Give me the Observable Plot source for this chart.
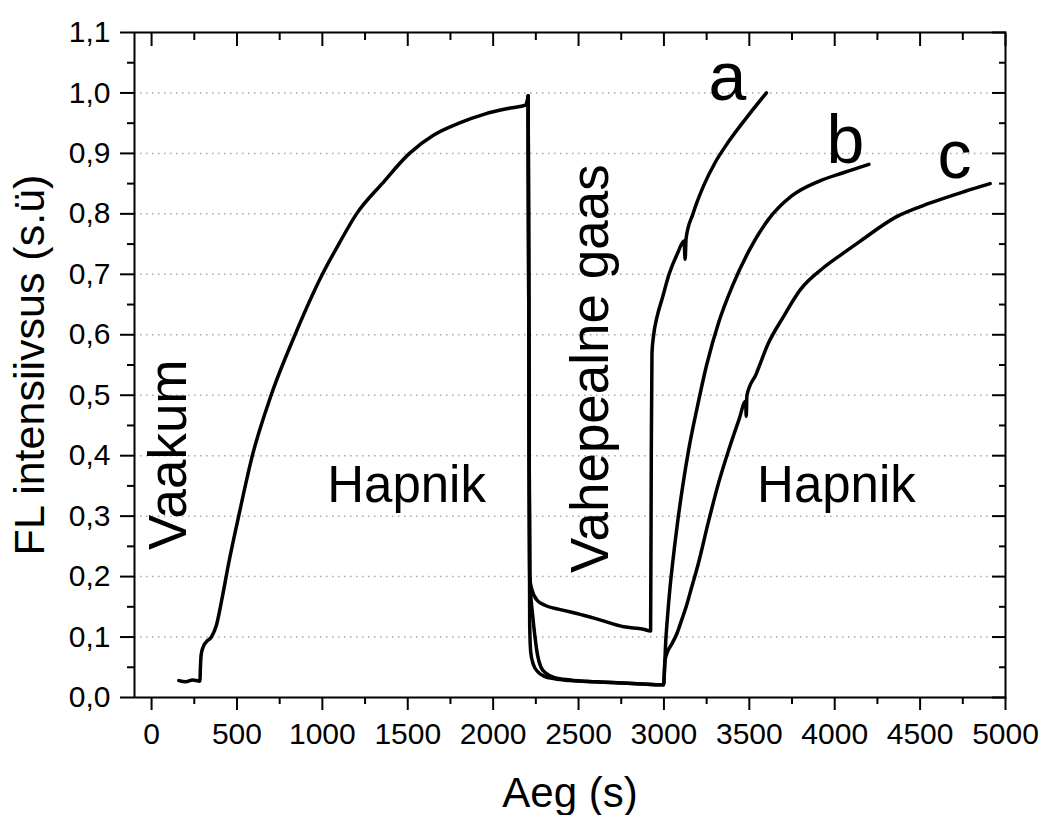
<!DOCTYPE html>
<html>
<head>
<meta charset="utf-8">
<script src="https://cdn.jsdelivr.net/npm/d3@7"></script>
<script src="https://cdn.jsdelivr.net/npm/@observablehq/plot@0.6"></script>
<style>
  html, body { margin: 0; padding: 0; background: #fff; }
</style>
</head>
<body>
<div id="chart"></div>
<script>
// Shared segment: vacuum, then oxygen admitted (time in s, FL intensity in a.u.)
const tRise = [160, 200, 240, 283, 286, 290, 300, 320, 350, 380, 410, 450, 510, 590, 700, 840, 1000, 1100, 1200, 1350, 1510, 1650, 1800, 1950, 2100, 2190, 2205];
const vRise = [0.028, 0.026, 0.029, 0.027, 0.05, 0.07, 0.082, 0.092, 0.10, 0.12, 0.16, 0.22, 0.30, 0.40, 0.50, 0.60, 0.70, 0.752, 0.80, 0.85, 0.90, 0.93, 0.95, 0.965, 0.975, 0.98, 0.995];

// Branch a: intermediate gas, oxygen back at ~2920 s
const tA = [2205, 2210, 2214, 2225, 2260, 2300, 2400, 2490, 2630, 2765, 2880, 2922, 2926, 2930, 2940, 2960, 2990, 3030, 3080, 3118, 3124, 3130, 3170, 3230, 3300, 3380, 3500, 3600];
const vA = [0.995, 0.5, 0.20, 0.18, 0.16, 0.153, 0.145, 0.139, 0.128, 0.117, 0.113, 0.11, 0.40, 0.57, 0.60, 0.63, 0.66, 0.70, 0.735, 0.755, 0.725, 0.76, 0.80, 0.845, 0.885, 0.92, 0.965, 1.0];

// Branch b: oxygen back at ~3000 s
const tB = [2205, 2210, 2214, 2220, 2235, 2260, 2300, 2360, 2450, 2600, 2750, 2900, 2998, 3004, 3010, 3020, 3035, 3050, 3080, 3110, 3145, 3195, 3250, 3320, 3400, 3500, 3610, 3750, 3900, 4050, 4200];
const vB = [0.995, 0.5, 0.12, 0.075, 0.055, 0.043, 0.035, 0.031, 0.028, 0.026, 0.024, 0.022, 0.021, 0.05, 0.09, 0.13, 0.18, 0.22, 0.29, 0.35, 0.41, 0.48, 0.55, 0.62, 0.68, 0.74, 0.79, 0.83, 0.853, 0.868, 0.882];

// Branch c: oxygen back at ~3000 s, slower recovery
const tC = [2205, 2210, 2214, 2218, 2230, 2245, 2260, 2280, 2310, 2360, 2450, 2600, 2750, 2900, 2998, 3006, 3020, 3045, 3075, 3100, 3130, 3160, 3200, 3260, 3320, 3380, 3440, 3478, 3482, 3486, 3540, 3610, 3700, 3800, 3930, 4050, 4150, 4360, 4560, 4760, 4910];
const vC = [0.995, 0.5, 0.21, 0.18, 0.14, 0.10, 0.07, 0.05, 0.04, 0.033, 0.029, 0.026, 0.024, 0.022, 0.021, 0.06, 0.075, 0.088, 0.105, 0.125, 0.15, 0.18, 0.22, 0.29, 0.355, 0.41, 0.46, 0.49, 0.465, 0.50, 0.535, 0.585, 0.63, 0.675, 0.71, 0.735, 0.755, 0.795, 0.818, 0.837, 0.85];

// Axis ticks
const xMajor = [0, 500, 1000, 1500, 2000, 2500, 3000, 3500, 4000, 4500, 5000];
const xMinor = [250, 750, 1250, 1750, 2250, 2750, 3250, 3750, 4250, 4750];
const yMajor = [0, 0.1, 0.2, 0.3, 0.4, 0.5, 0.6, 0.7, 0.8, 0.9, 1.0, 1.1];
const yMinor = [0.05, 0.15, 0.25, 0.35, 0.45, 0.55, 0.65, 0.75, 0.85, 0.95, 1.05];
const yGrid = [0.1, 0.2, 0.3, 0.4, 0.5, 0.6, 0.7, 0.8, 0.9, 1.0];

// Region labels and curve letters
const regionLabels = [
  {text: "Hapnik", t: 1493, v: 0.3227},
  {text: "Hapnik", t: 4010, v: 0.3227}
];
const verticalLabels = [
  {text: "Vaakum", t: 200, v: 0.244},
  {text: "Vahepealne gaas", t: 2675, v: 0.206}
];
const curveLetters = [
  {text: "a", t: 3372, v: 0.989},
  {text: "b", t: 4063, v: 0.8835},
  {text: "c", t: 4701, v: 0.8587}
];

const rows = [];
function addSeries(name, ts, vs) {
  ts.forEach((t, i) => rows.push({series: name, t, v: vs[i]}));
}
addSeries("rise", tRise, vRise);
addSeries("a", tA, vA);
addSeries("b", tB, vB);
addSeries("c", tC, vC);

const font = "'Liberation Sans', Arial, Helvetica, sans-serif";
const fmtY = d => d.toFixed(1).replace(".", ",");
const blank = () => "";

const chart = Plot.plot({
  width: 1041,
  height: 815,
  marginLeft: 134,
  marginRight: 36,
  marginTop: 32,
  marginBottom: 118,
  x: {domain: [-100, 5000]},
  y: {domain: [0, 1.1]},
  style: {fontFamily: font, background: "white", color: "black"},
  marks: [
    Plot.ruleY(yGrid, {stroke: "#a8a8a8", strokeWidth: 1.5, strokeDasharray: "1.5,4.5"}),
    Plot.line(rows, {x: "t", y: "v", z: "series", curve: "monotone-x", stroke: "black", strokeWidth: 3.5, strokeLinejoin: "round", strokeLinecap: "round"}),
    Plot.frame({stroke: "black", strokeWidth: 2}),
    // bottom / left: outward ticks with labels
    Plot.axisX({ticks: xMajor, tickSize: 13, tickPadding: 12, strokeWidth: 2, fontSize: 30, tickFormat: d => String(d), label: null}),
    Plot.axisX({ticks: xMinor, tickSize: 7, strokeWidth: 2, tickFormat: blank, label: null}),
    Plot.axisY({ticks: yMajor, tickSize: 14, tickPadding: 10, strokeWidth: 2, fontSize: 30, tickFormat: fmtY, label: null}),
    Plot.axisY({ticks: yMinor, tickSize: 7, strokeWidth: 2, tickFormat: blank, label: null}),
    // top / right: inward ticks
    Plot.axisX({anchor: "top", ticks: xMajor, tickSize: -13, strokeWidth: 2, tickFormat: blank, label: null}),
    Plot.axisX({anchor: "top", ticks: xMinor, tickSize: -7, strokeWidth: 2, tickFormat: blank, label: null}),
    Plot.axisY({anchor: "right", ticks: yMajor, tickSize: -14, strokeWidth: 2, tickFormat: blank, label: null}),
    Plot.axisY({anchor: "right", ticks: yMinor, tickSize: -7, strokeWidth: 2, tickFormat: blank, label: null}),
    // axis titles
    Plot.text(["Aeg (s)"], {frameAnchor: "bottom", dy: 109, text: d => d, fontSize: 42, lineAnchor: "bottom", textAnchor: "middle"}),
    Plot.text(["FL intensiivsus (s.ü)"], {frameAnchor: "left", dx: -91, text: d => d, fontSize: 43, rotate: -90, lineAnchor: "bottom", textAnchor: "middle"}),
    // annotations
    Plot.text(regionLabels, {x: "t", y: "v", text: "text", fontSize: 51, lineAnchor: "bottom", textAnchor: "middle"}),
    Plot.text(verticalLabels, {x: "t", y: "v", text: "text", fontSize: 53, rotate: -90, lineAnchor: "bottom", textAnchor: "start"}),
    Plot.text(curveLetters, {x: "t", y: "v", text: "text", fontSize: 68, lineAnchor: "bottom", textAnchor: "middle"})
  ]
});

document.getElementById("chart").appendChild(chart);
</script>
</body>
</html>
